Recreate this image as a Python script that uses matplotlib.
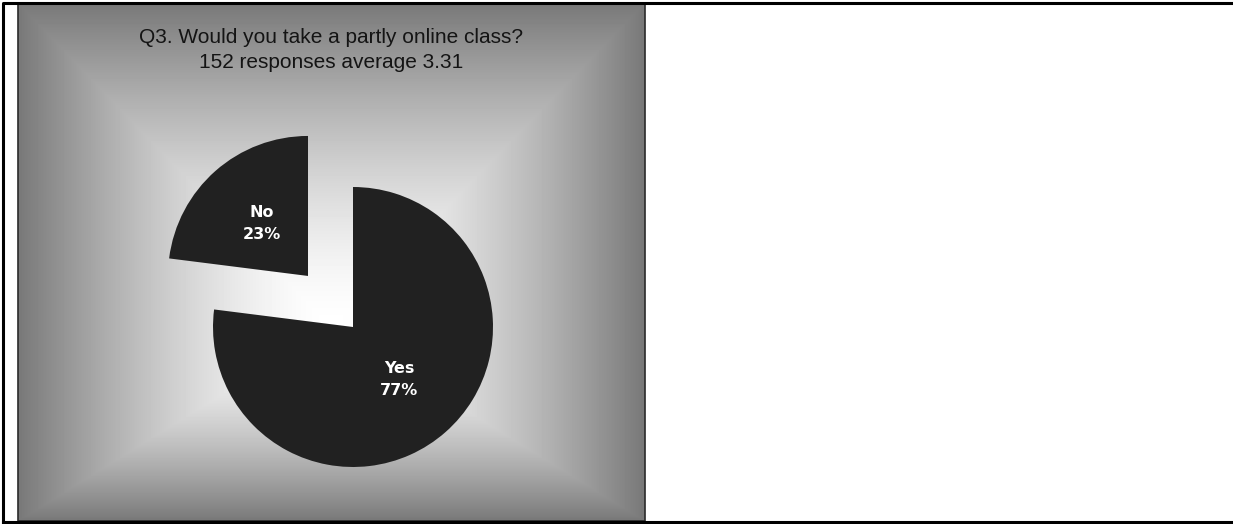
import matplotlib
matplotlib.use('Agg')
import matplotlib.pyplot as plt
import numpy as np
from matplotlib.patches import Rectangle

W, H = 1233, 524

title_lines = ['Q3. Would you take a partly online class?', '152 responses average 3.31']
categories = ['Yes', 'No']
percents = [77, 23]
explode_frac = [0, 0.486]

fig = plt.figure(figsize=(W / 100, H / 100), dpi=100)
ax = fig.add_axes([0, 0, 1, 1])

# chart area: path gradient from a centre point out to the border,
# white in the middle, grey at the edges (seams run corner -> centre)
x0, x1, y0, y1 = 18, 645, 3, 521
cx, cy = 331, 327
xs = np.arange(x0, x1) + 0.5
ys = np.arange(y0, y1) + 0.5
tx = np.where(xs < cx, (cx - xs) / (cx - x0), (xs - cx) / (x1 - cx))
ty = np.where(ys < cy, (cy - ys) / (cy - y0), (ys - cy) / (y1 - cy))
t = np.maximum(tx[None, :], ty[:, None])
shade = 1 - 0.53 * t ** 1.5
ax.imshow(shade, cmap='gray', vmin=0, vmax=1, origin='upper',
          extent=(x0, x1, H - y1, H - y0), interpolation='bilinear', zorder=0)
ax.add_patch(Rectangle((x0, H - y1), x1 - x0, y1 - y0, fill=False,
                       edgecolor='#2a2a2a', linewidth=1.2, zorder=1))

# outer frame (right side runs off the page)
ax.plot([3, 3, W + 5], [H - 522, H - 2.5, H - 2.5], color='black', lw=2.2, zorder=5)
ax.plot([3, W + 5], [H - 522, H - 522], color='black', lw=2.2, zorder=5)

radius = 140
wedges, texts, autotexts = ax.pie(
    percents, explode=[f * radius for f in explode_frac], startangle=90,
    counterclock=False, colors=['#212121', '#212121'],
    center=(353, H - 327), radius=radius,
    autopct='%1.0f%%', pctdistance=0.5, frame=True,
    wedgeprops=dict(linewidth=0))
for txt, cat, p in zip(autotexts, categories, percents):
    txt.set_text(f'{cat}\n{p}%')
    txt.set_color('white')
    txt.set_fontsize(11.5)
    txt.set_fontweight('bold')
    txt.set_family('DejaVu Sans')
    txt.set_linespacing(1.6)

ax.text(331, H - 43, title_lines[0], ha='center', va='baseline',
        fontsize=15, family='Liberation Sans', color='#141414')
ax.text(331, H - 68, title_lines[1], ha='center', va='baseline',
        fontsize=15, family='Liberation Sans', color='#141414')

ax.set_xlim(0, W)
ax.set_ylim(0, H)
ax.set_aspect('auto')
ax.axis('off')

fig.savefig('out.png', dpi=100, facecolor='white')
